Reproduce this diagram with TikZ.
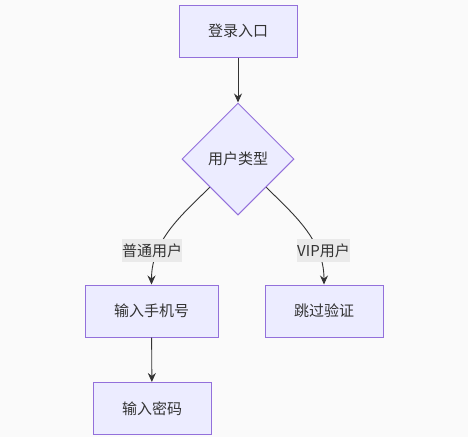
\documentclass[tikz,border=0pt]{standalone}
\usepackage{fontspec}
\newfontfamily\cjk{Noto Sans CJK SC}
\usetikzlibrary{shapes.geometric,arrows.meta}
\definecolor{bg}{HTML}{FAFAFA}
\definecolor{nodefill}{HTML}{ECECFF}
\definecolor{nodeline}{HTML}{9370DB}
\definecolor{edgecol}{HTML}{333333}
\definecolor{lblbg}{HTML}{EAEAEA}
\definecolor{txt}{HTML}{333333}
\tikzset{
  box/.style={draw=nodeline, fill=nodefill, line width=1pt, minimum height=52pt,
    inner xsep=29pt, inner ysep=0pt, font=\cjk\fontsize{15}{18}\selectfont, text=txt},
  decision/.style={diamond, aspect=1, draw=nodeline, fill=nodefill, line width=1pt,
    minimum size=112pt, inner sep=0pt, font=\cjk\fontsize{15}{18}\selectfont, text=txt},
  elabel/.style={fill=lblbg, inner xsep=0pt, inner ysep=0pt, minimum height=23pt,
    font=\cjk\fontsize{15}{18}\selectfont, text=txt},
  conn/.style={draw=edgecol, line width=0.9pt, -{Stealth[length=9pt,width=8pt]}}
}
\begin{document}
\begin{tikzpicture}[x=1pt,y=-1pt]
\fill[bg] (0,0) rectangle (468,437);
\useasboundingbox (0,0) rectangle (468,437);
\node[box] (a) at (238,31) {登录入口};
\node[decision] (b) at (238,159) {用户类型};
\node[box] (c) at (151.5,311) {输入手机号};
\node[box] (d) at (324,311) {跳过验证};
\node[box] (e) at (152,408.5) {输入密码};
\draw[conn] (a) -- (b.north);
\draw[conn] (b.south west) .. controls +(-26,26) and +(0,-45) .. (c.north);
\draw[conn] (b.south east) .. controls +(26,26) and +(0,-45) .. (d.north);
\draw[conn] (c) -- (e);
\node[elabel] (l1) at (152,250.5) {普通用户};
\node[elabel] (l2) at (323.5,250.5) {VIP用户};
\end{tikzpicture}
\end{document}
